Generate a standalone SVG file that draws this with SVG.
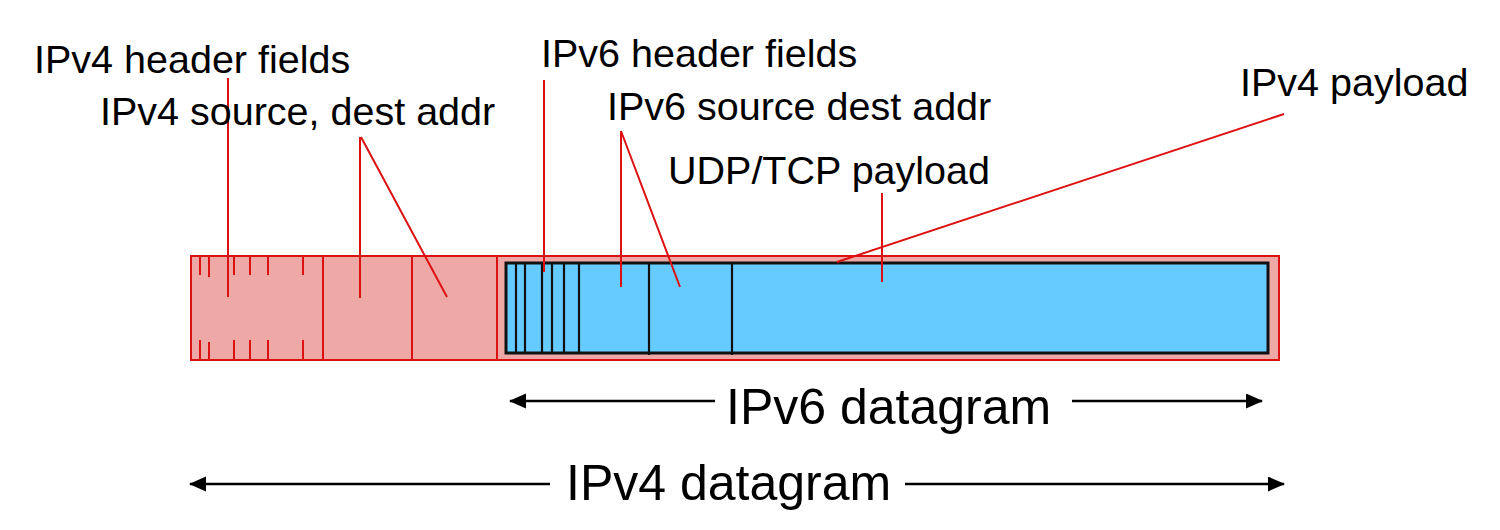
<svg xmlns="http://www.w3.org/2000/svg" width="1500" height="530" viewBox="0 0 1500 530">
<defs>
<style>
.lbl{font-family:"Liberation Sans",Arial,sans-serif;font-size:39.5px;fill:#000}
.big{font-family:"Liberation Sans",Arial,sans-serif;font-size:50px;fill:#000}
.lead{stroke:#DD1111;stroke-width:2;fill:none}
.red{stroke:#DD1111;stroke-width:2;fill:none}
.blk{stroke:#111;stroke-width:2.2;fill:none}
.arr{stroke:#000;stroke-width:2.6;fill:none;marker-end:url(#ah)}
</style>
<marker id="ah" markerUnits="userSpaceOnUse" markerWidth="18" markerHeight="16" refX="16" refY="7.5" orient="auto">
<path d="M0,0 L17,7.5 L0,15 z" fill="#000"/>
</marker>
</defs>
<rect width="1500" height="530" fill="#fff"/>

<g id="ipv4-datagram">
<rect x="191" y="256" width="1088" height="104" fill="#EEA8A5" stroke="#DD1111" stroke-width="2"/>
<g id="ipv4-header">
<path class="red" d="M200,256V275M209,256V277M234,256V275M250,256V275M268,256V275M303,256V275"/>
<path class="red" d="M200,340V360M209,342V360M234,340V360M250,340V360M268,340V360M303,340V360"/>
</g>
<path class="red" d="M323,256V360M412,256V360M497,256V360"/>
</g>

<g id="ipv6-datagram">
<rect x="506" y="263" width="762" height="90" fill="#66CCFF" stroke="#111" stroke-width="3"/>
<path class="blk" d="M516,263V353M525,263V353M542,263V353M552,263V353M564,263V353M579,263V353M649,263V355M732,263V355"/>
</g>

<g id="connectors">
<path class="lead" d="M228,78V297"/>
<path class="lead" d="M360,137V298M361,137L447,297"/>
<path class="lead" d="M544,80V272"/>
<path class="lead" d="M621,131V287M621,131L680,287"/>
<path class="lead" d="M882,193V282"/>
<path class="lead" d="M1284,114L837,262"/>
<line class="arr" x1="715" y1="401" x2="510" y2="401"/>
<line class="arr" x1="1072" y1="401" x2="1262" y2="401"/>
<line class="arr" x1="550" y1="484" x2="190" y2="484"/>
<line class="arr" x1="905" y1="484" x2="1284" y2="484"/>
</g>

<g id="labels">
<text class="lbl" x="34" y="73">IPv4 header fields</text>
<text class="lbl" x="100" y="125">IPv4 source, dest addr</text>
<text class="lbl" x="541" y="67">IPv6 header fields</text>
<text class="lbl" x="607" y="120">IPv6 source dest addr</text>
<text class="lbl" x="668" y="184">UDP/TCP payload</text>
<text class="lbl" x="1240" y="96">IPv4 payload</text>
<text class="big" x="726" y="424">IPv6 datagram</text>
<text class="big" x="566" y="500">IPv4 datagram</text>
</g>
</svg>
